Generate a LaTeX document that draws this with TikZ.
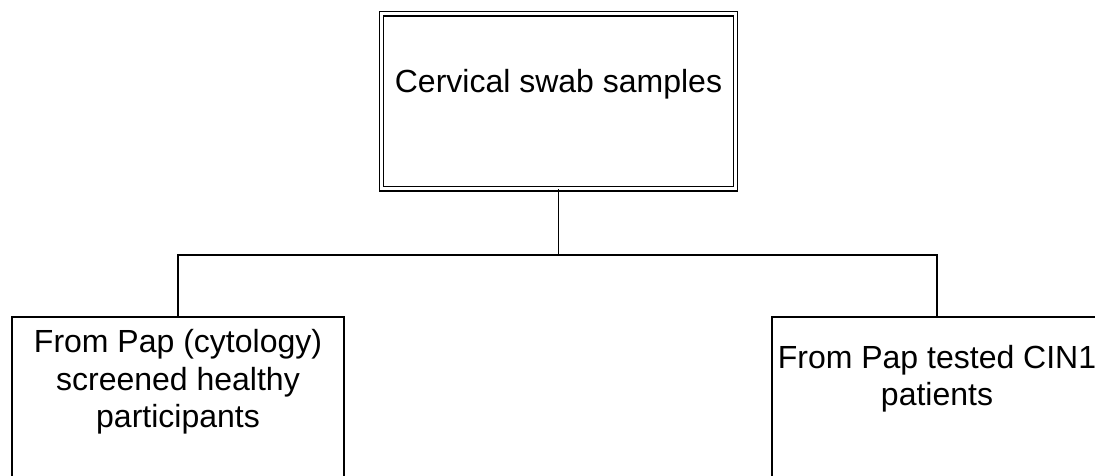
\documentclass[tikz,border=0pt]{standalone}
\usepackage{fontspec}
\setmainfont{Liberation Sans}
\begin{document}
\begin{tikzpicture}[x=1pt,y=-1pt,
  every node/.style={font=\fontsize{32}{37.5}\selectfont, align=center, inner sep=0pt, draw, line width=1.6pt},
  topbox/.style={double, double distance=3pt, line width=1.4pt, minimum width=354pt, anchor=north},
  leafbox/.style={minimum width=332pt, anchor=north, text depth=150pt},
  conn/.style={line width=1.6pt}]
\clip (0,0) rectangle (1095,476);
\fill[white] (0,0) rectangle (1095,476);
\node[topbox, text height=79pt, text depth=96pt] (top) at (558.5,13) {Cervical swab samples};
\node[leafbox, text height=111pt] (left) at (178,316) {From Pap (cytology)\\screened healthy\\participants};
\node[leafbox, minimum width=330pt, text height=89pt] (right) at (937,316) {From Pap tested CIN1\\patients};
\coordinate (j) at (558.5,255);
\draw[conn] (top.south) -- (top.south |- j);
\draw[conn] (left.north) -- (left.north |- j) -- (right.north |- j) -- (right.north);
\end{tikzpicture}
\end{document}
